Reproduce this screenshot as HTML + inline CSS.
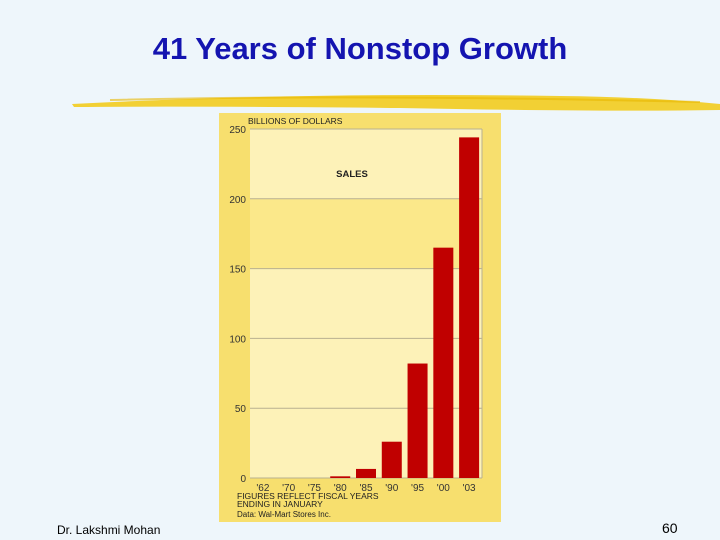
<!DOCTYPE html>
<html><head><meta charset="utf-8"><style>
body{margin:0;width:720px;height:540px;background:#eef6fb;position:relative;overflow:hidden;font-family:"Liberation Sans",sans-serif}
</style></head><body>
<div style="position:absolute;left:0;width:720px;top:31px;text-align:center;font-size:31px;font-weight:bold;color:#1414b0">41 Years of Nonstop Growth</div>
<svg style="position:absolute;left:0;top:0" width="720" height="540">
<path d="M72,104 Q300,92 560,96 Q650,97 720,104 L720,110 Q600,112 400,108 Q200,106 74,107 Z" fill="#f2cc1e" opacity="0.9"/>
<path d="M110,100 Q350,94 700,102" stroke="#e8b800" stroke-width="2" fill="none" opacity="0.6"/>
</svg>
<svg id="chart" style="position:absolute;left:0;top:0" width="720" height="540"></svg>
<div style="position:absolute;left:57px;top:523px;font-size:12px;color:#000">Dr. Lakshmi Mohan</div>
<div style="position:absolute;left:662px;top:520px;font-size:14px;color:#000">60</div>
<script>
const categories=["'62","'70","'75","'80","'85","'90","'95","'00","'03"];
const sales=[0,0,0,1.2,6.5,26,82,165,244];
const ticks=[0,50,100,150,200,250];
const NS="http://www.w3.org/2000/svg",svg=document.getElementById('chart');
const L=250,R=482,T=129,B=478,vmax=250;
const y=v=>B-(v/vmax)*(B-T);
const band=(R-L)/categories.length;
const x=i=>L+band*i+band/2;
function mk(t,a,p){const e=document.createElementNS(NS,t);for(const k in a)e.setAttribute(k,a[k]);(p||svg).appendChild(e);return e;}
let e=mk('rect',{x:219,y:113,width:282,height:409,fill:'#f7df6e'});

for(let i=0;i<ticks.length-1;i++){
 e=mk('rect',{x:L,y:y(ticks[i+1]),width:R-L,height:y(ticks[i])-y(ticks[i+1]),fill:ticks[i]==150?'#fbe88a':'#fdf2b8'});
 
}
ticks.forEach(t=>{
 e=mk('line',{x1:L,x2:R,y1:y(t),y2:y(t),stroke:'#b8b090','stroke-width':1});
 
 e=mk('text',{x:246,y:y(t)+4,'text-anchor':'end','font-size':10,fill:'#333'});e.textContent=t;
 
});
e=mk('line',{x1:R,x2:R,y1:T,y2:B,stroke:'#b8b090'});

sales.forEach((v,i)=>{
 e=mk('rect',{x:x(i)-10,y:y(v),width:20,height:B-y(v),fill:'#c00000'});
 
 e=mk('text',{x:x(i),y:491,'text-anchor':'middle','font-size':10,fill:'#333'});e.textContent=categories[i];
 
});
const txt=[["BILLIONS OF DOLLARS",248,124,8.5,'start','y-axis-title'],["SALES",352,177,9.5,'middle','chart-label'],
["FIGURES REFLECT FISCAL YEARS",237,499,8.5,'start','note-line-1'],["ENDING IN JANUARY",237,507,8.5,'start','note-line-2'],["Data: Wal-Mart Stores Inc.",237,517,8,'start','source-note']];
txt.forEach(([s,tx,ty,fs,an,n])=>{e=mk('text',{x:tx,y:ty,'font-size':fs,'text-anchor':an,fill:'#222','font-weight':n=='chart-label'?'bold':'normal'});e.textContent=s;
 });
</script>
</body></html>
